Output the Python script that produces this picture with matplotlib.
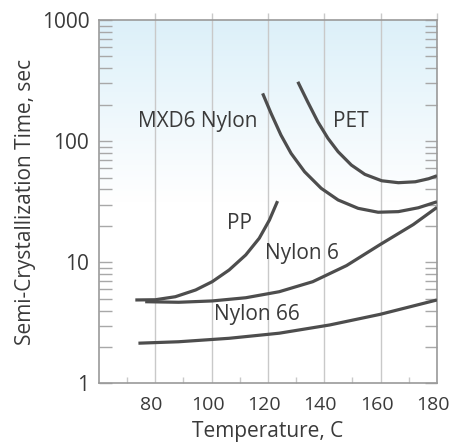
import matplotlib.pyplot as plt
import matplotlib.transforms as mtransforms
import numpy as np
from matplotlib.colors import LinearSegmentedColormap

plt.rcParams['font.family'] = ['Open Sans', 'DejaVu Sans']

# values (temperature C, time sec)
pet_t = [130.6, 134.1, 137.7, 141.3, 144.9, 149.6, 154.4, 160.4, 166.3, 172.3, 177.0, 180.0]
pet_s = [309, 211, 144.5, 105.5, 81.8, 63.5, 53.2, 47.1, 45.4, 46.2, 48.9, 51.8]

mxd6_t = [118.1, 121.1, 124.6, 128.2, 133.0, 138.9, 144.9, 152.0, 159.1, 166.3, 173.4, 180.0]
mxd6_s = [248, 169.5, 112.3, 79.3, 55.9, 40.8, 32.7, 27.9, 25.9, 26.2, 28.2, 31.6]

nylon6_t = [76.4, 88.3, 100.2, 112.1, 124.0, 135.9, 147.9, 159.8, 171.6, 180.0]
nylon6_s = [4.73, 4.68, 4.80, 5.10, 5.72, 6.92, 9.4, 14.0, 20.5, 28.4]

pp_t = [72.9, 80.0, 87.1, 94.3, 100.2, 106.2, 112.1, 116.9, 120.5, 123.4]
pp_s = [4.89, 4.91, 5.20, 5.91, 6.92, 8.64, 11.5, 15.8, 22.3, 32.0]

nylon66_t = [74.0, 88.3, 106.2, 124.0, 141.9, 159.8, 180.0]
nylon66_s = [2.15, 2.21, 2.36, 2.60, 3.04, 3.72, 4.89]

labels = ["MXD6 Nylon", "PET", "PP", "Nylon 6", "Nylon 66"]
label_t = [95.1, 149.3, 109.8, 132.0, 115.9]
label_s = [144.5, 144.5, 21.0, 11.9, 3.72]

x_ticks = [80, 100, 120, 140, 160, 180]
y_ticks = [1, 10, 100, 1000]
y_ticklabels = ["1", "10", "100", "1000"]

line_col = "#4d4d4d"
grid_col = "#c9c9c9"
text_col = "#3a3a3a"

fig = plt.figure(figsize=(4.5, 4.44), dpi=100)
ax = fig.add_axes([0.22, 0.1363, 0.751, 0.8187])

# soft blue-to-white background
cmap = LinearSegmentedColormap.from_list("bg", ["#ffffff", "#ffffff", "#dcf0f9"])
grad = np.linspace(0, 1, 256).reshape(-1, 1)
ax.imshow(grad, cmap=cmap, aspect="auto", extent=[0, 1, 0, 1],
          transform=ax.transAxes, origin="lower", zorder=0)

ax.set_yscale("log")
ax.set_xlim(60, 180)
ax.set_ylim(1, 1000)

for t, s in [(pet_t, pet_s), (mxd6_t, mxd6_s), (nylon6_t, nylon6_s),
             (pp_t, pp_s), (nylon66_t, nylon66_s)]:
    ax.plot(t, s, color=line_col, lw=2.3, solid_capstyle="butt",
            solid_joinstyle="round", zorder=3)

for lab, t, s in zip(labels, label_t, label_s):
    ax.text(t, s, lab, ha="center", va="center", fontsize=15, color=text_col, zorder=4)

ax.grid(True, axis="x", which="major", color=grid_col, lw=1.0, zorder=1)
ax.set_axisbelow(True)

ax.set_xticks(x_ticks)
ax.set_xticks(np.arange(70, 180, 20), minor=True)
ax.set_yticks(y_ticks)
ax.set_yticklabels(y_ticklabels)

ax.tick_params(axis="x", which="major", bottom=False, top=True, direction="out",
               length=5, color=grid_col, width=1.0, labelsize=14,
               labelcolor=text_col, pad=4)
ax.tick_params(axis="x", which="minor", bottom=True, top=False, direction="in",
               length=4.5, color=grid_col, width=1.0)
ax.tick_params(axis="y", which="both", left=True, right=True, direction="in",
               length=9, color="#a8a8a8", width=1.0, labelsize=15,
               labelcolor=text_col, pad=7)

# x tick labels sit a little left of their gridlines in the reference
shift = mtransforms.ScaledTranslation(-4 / 100, 0, fig.dpi_scale_trans)
for lbl in ax.get_xticklabels():
    lbl.set_transform(lbl.get_transform() + shift)

for sp in ax.spines.values():
    sp.set_color("#9a9a9a")
    sp.set_linewidth(1.2)

ax.set_xlabel("Temperature, C", fontsize=15, color=text_col, labelpad=5)
ax.set_ylabel("Semi-Crystallization Time, sec", fontsize=15, color=text_col, labelpad=4)

fig.savefig("out.png", dpi=100)
